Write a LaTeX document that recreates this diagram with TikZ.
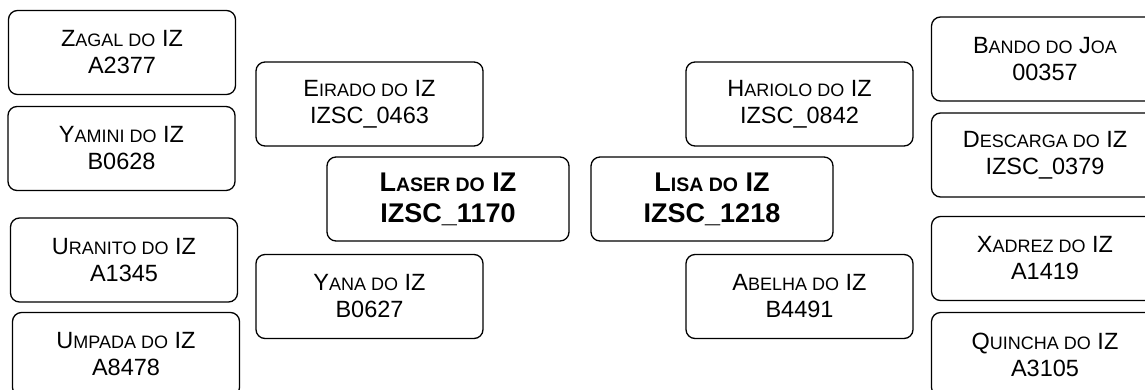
\documentclass[tikz,border=0pt]{standalone}
\usepackage{fontspec}
\setmainfont{Liberation Sans}
\newcommand{\lc}[1]{{\fontsize{18}{27}\selectfont #1}}
\newcommand{\blc}[1]{{\fontsize{19.5}{31}\selectfont #1}}

\begin{document}
\begin{tikzpicture}[
    x=1pt, y=-1pt,
    card/.style={draw, rounded corners=9pt, line width=1.3pt, align=center,
        minimum width=227pt, minimum height=84pt, inner sep=0pt,
        font=\fontsize{23.5}{27}\selectfont},
    keycard/.style={card, minimum width=242pt, font=\fontsize{27}{31}\selectfont\bfseries},
]
\useasboundingbox (0,0) rectangle (1145,389);
\clip (0,0) rectangle (1145,389);
\node[card] (zagal) at (122,52.5) {Z\lc{AGAL DO} IZ\\A2377};
\node[card] (yamini) at (121.5,148.5) {Y\lc{AMINI DO} IZ\\B0628};
\node[card] (uranito) at (124,260) {U\lc{RANITO DO} IZ\\A1345};
\node[card] (umpada) at (126,354.5) {U\lc{MPADA DO} IZ\\A8478};
\node[card] (eirado) at (369.5,104) {E\lc{IRADO DO} IZ\\IZSC\_0463};
\node[card] (yana) at (369.5,296.5) {Y\lc{ANA DO} IZ\\B0627};
\node[keycard] (laser) at (448,199) {L\blc{ASER DO} IZ\\IZSC\_1170};
\node[keycard] (lisa) at (712,199) {L\blc{ISA DO} IZ\\IZSC\_1218};
\node[card] (hariolo) at (799.5,104) {H\lc{ARIOLO DO} IZ\\IZSC\_0842};
\node[card] (abelha) at (799.5,296.5) {A\lc{BELHA DO} IZ\\B4491};
\node[card] (bando) at (1045,59) {B\lc{ANDO DO} J\lc{OA}\\00357};
\node[card] (descarga) at (1045,155) {D\lc{ESCARGA DO} IZ\\IZSC\_0379};
\node[card] (xadrez) at (1045,258.5) {X\lc{ADREZ DO} IZ\\A1419};
\node[card] (quincha) at (1045,354.5) {Q\lc{UINCHA DO} IZ\\A3105};
\end{tikzpicture}
\end{document}
